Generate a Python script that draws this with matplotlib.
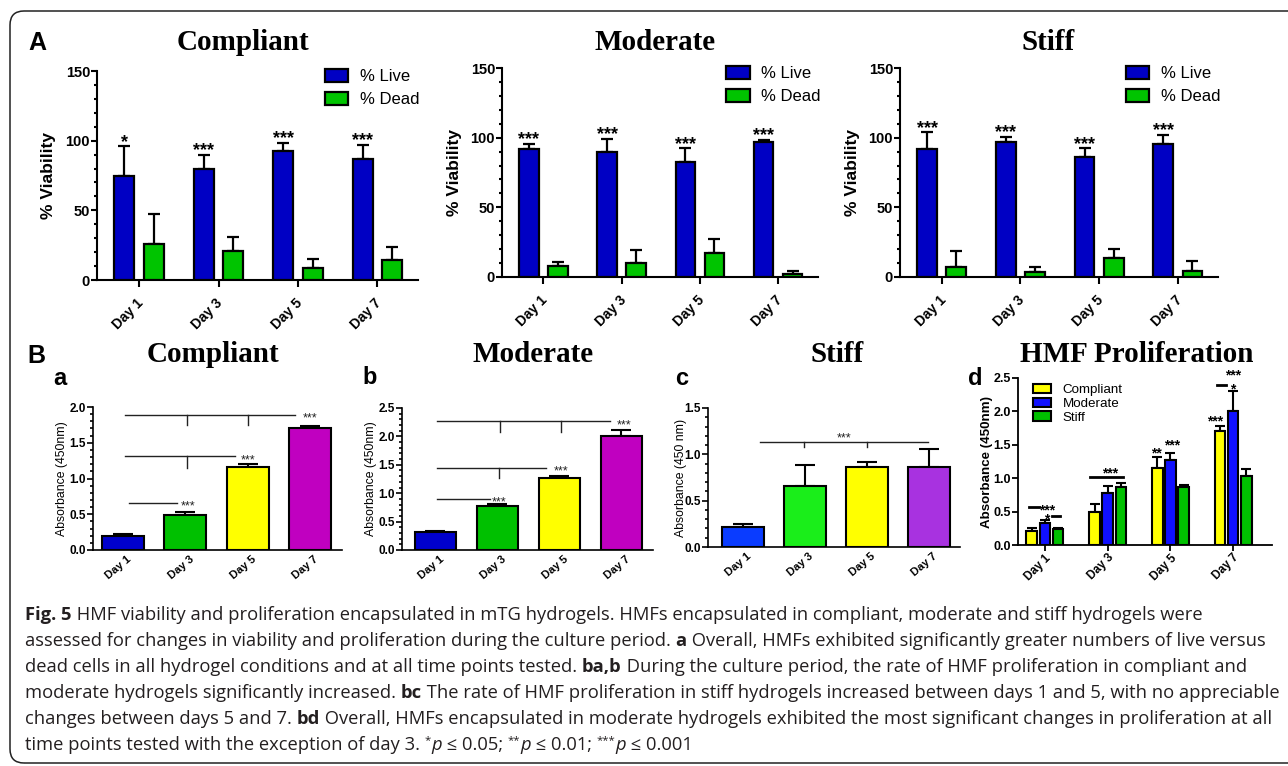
import numpy as np
import matplotlib
matplotlib.use("Agg")
import matplotlib.pyplot as plt
from matplotlib.patches import FancyBboxPatch, Patch
from matplotlib.transforms import IdentityTransform
from matplotlib.ticker import MultipleLocator

W, H = 1288, 766
DPI = 100
SANS = ['Liberation Sans', 'DejaVu Sans']
SERIF = ['Liberation Serif', 'DejaVu Serif']
CAPF = ['Open Sans', 'DejaVu Sans']
plt.rcParams['font.family'] = SANS

# ---------------- data ----------------
days = ['Day 1', 'Day 3', 'Day 5', 'Day 7']
viability_series = ['% Live', '% Dead']
titles_A = ['Compliant', 'Moderate', 'Stiff']

compliant_live = [74.5, 80.0, 92.4, 86.6]
compliant_live_err = [21.5, 10.0, 5.9, 10.3]
compliant_dead = [26.0, 20.8, 8.4, 14.0]
compliant_dead_err = [21.7, 10.0, 6.4, 9.9]
compliant_stars = ['*', '***', '***', '***']

moderate_live = [91.9, 90.0, 82.5, 96.9]
moderate_live_err = [3.6, 9.3, 9.8, 1.7]
moderate_dead = [8.0, 9.8, 17.2, 2.4]
moderate_dead_err = [3.0, 9.6, 10.1, 1.7]
moderate_stars = ['***', '***', '***', '***']

stiff_live = [92.0, 96.7, 86.0, 95.4]
stiff_live_err = [11.8, 3.8, 6.3, 6.6]
stiff_dead = [7.4, 3.3, 13.6, 4.5]
stiff_dead_err = [11.5, 3.9, 6.4, 6.7]
stiff_stars = ['***', '***', '***', '***']

# proliferation (absorbance 450 nm)
abs_compliant = [0.20, 0.494, 1.156, 1.706]
abs_compliant_err = [0.03, 0.042, 0.047, 0.028]
abs_moderate = [0.32, 0.777, 1.273, 2.00]
abs_moderate_err = [0.02, 0.035, 0.035, 0.11]
abs_stiff = [0.215, 0.66, 0.861, 0.861]
abs_stiff_err = [0.035, 0.223, 0.054, 0.194]

# significance brackets (panel a, b, c)
a_bar_y = [0.662, 1.31, 1.893]
a_bar_x0 = [0.10, 0.03, 0.03]
a_bar_x1 = [0.87, 1.80, 2.76]
a_drop_x = [[], [1.03], [1.03, 2.0]]
a_drop_y = [None, 1.147, 1.744]
a_star_x = [1.04, 2.0, 3.0]
a_star_y = [0.662, 1.31, 1.893]

b_bar_y = [0.905, 1.449, 2.27]
b_bar_x0 = [0.02, 0.02, 0.02]
b_bar_x1 = [0.88, 1.79, 2.81]
b_drop_x = [[], [1.02], [1.04, 2.02]]
b_drop_y = [None, 1.27, 2.08]
b_star_x = [1.02, 2.03, 3.04]
b_star_y = [0.905, 1.449, 2.27]

c_bar_y = [1.13]
c_bar_x0 = [0.27]
c_bar_x1 = [2.98]
c_drop_x = [[0.98, 2.0]]
c_drop_y = [1.08]
c_star_x = [1.63]
c_star_y = [1.21]

# panel d
d_series = ['Compliant', 'Moderate', 'Stiff']
d_compliant = [0.21, 0.50, 1.16, 1.70]
d_compliant_err = [0.05, 0.115, 0.15, 0.075]
d_moderate = [0.325, 0.775, 1.275, 2.00]
d_moderate_err = [0.05, 0.11, 0.10, 0.31]
d_stiff = [0.245, 0.875, 0.875, 1.035]
d_stiff_err = [0.015, 0.05, 0.02, 0.10]
d_marks_text = ['***', '*', '***', '**', '***', '***', '*', '***']
d_marks_x = [0.03, 0.03, 1.04, 1.78, 2.02, 2.71, 3.00, 3.00]
d_marks_y = [0.575, 0.44, 1.12, 1.42, 1.55, 1.90, 2.39, 2.60]
d_lines_x0 = [-0.26, 0.11, 0.72, 2.75]
d_lines_x1 = [-0.10, 0.24, 1.25, 2.89]
d_lines_y = [0.57, 0.44, 1.02, 2.39]

caption_lines = [
    [('Fig. 5', 'b'), (' HMF viability and proliferation encapsulated in mTG hydrogels. HMFs encapsulated in compliant, moderate and stiff hydrogels were', 'r')],
    [('assessed for changes in viability and proliferation during the culture period. ', 'r'), ('a', 'b'), (' Overall, HMFs exhibited significantly greater numbers of live versus', 'r')],
    [('dead cells in all hydrogel conditions and at all time points tested. ', 'r'), ('ba,b', 'b'), (' During the culture period, the rate of HMF proliferation in compliant and', 'r')],
    [('moderate hydrogels significantly increased. ', 'r'), ('bc', 'b'), (' The rate of HMF proliferation in stiff hydrogels increased between days 1 and 5, with no appreciable', 'r')],
    [('changes between days 5 and 7. ', 'r'), ('bd', 'b'), (' Overall, HMFs encapsulated in moderate hydrogels exhibited the most significant changes in proliferation at all', 'r')],
    [('time points tested with the exception of day 3. ', 'r'), ('*', 's'), ('p', 'i'), (' \u2264 0.05; ', 'r'), ('**', 's'), ('p', 'i'),
     (' \u2264 0.01; ', 'r'), ('***', 's'), ('p', 'i'), (' \u2264 0.001', 'r')],
]

# ---------------- styling ----------------
BLUE_A = '#0000c4'
GREEN_A = '#00c400'
COLORS_AB = ['#0000cc', '#00c000', '#ffff00', '#c000c0']
COLORS_C = ['#0a3cff', '#1aee1a', '#ffff00', '#a832e0']
COLORS_D = ['#ffff00', '#1010ff', '#00c000']

fig = plt.figure(figsize=(W / DPI, H / DPI), dpi=DPI)


def add_ax(l, t, r, b):
    return fig.add_axes([l / W, 1 - b / H, (r - l) / W, (b - t) / H])


def style(ax, lw):
    ax.spines['top'].set_visible(False)
    ax.spines['right'].set_visible(False)
    for s in ('left', 'bottom'):
        ax.spines[s].set_linewidth(lw)
    ax.tick_params(which='major', width=lw, length=4, direction='out')
    ax.tick_params(which='minor', width=lw, length=2.5, direction='out')
    ax.set_facecolor('none')


def star(ax, x, y, s, fs, dy=0.0, weight='bold', color='k'):
    ax.annotate(s, (x, y), xytext=(0, dy - 0.56 * fs), textcoords='offset points',
                ha='center', va='baseline', fontsize=fs, fontweight=weight,
                color=color, annotation_clip=False)


def day_labels(ax, fs, rot, dx, dy):
    for i, d in enumerate(days):
        ax.annotate(d, (i, 0), xycoords=('data', 'axes fraction'), xytext=(dx, dy),
                    textcoords='offset points', rotation=rot, rotation_mode='anchor',
                    ha='right', va='center', fontsize=fs, fontweight='bold',
                    annotation_clip=False)


def fig_text(xp, yp, s, **kw):
    fig.text(xp / W, 1 - yp / H, s, **kw)


# ---------------- Panel A ----------------
OFF, BW = 0.185, 0.25
A_specs = [
    (compliant_live, compliant_live_err, compliant_dead, compliant_dead_err, compliant_stars, (97, 71, 418, 280), 243),
    (moderate_live, moderate_live_err, moderate_dead, moderate_dead_err, moderate_stars, (502, 68, 818, 277), 655),
    (stiff_live, stiff_live_err, stiff_dead, stiff_dead_err, stiff_stars, (900, 68, 1218, 277), 1048),
]
for title, (live, le, dead, de, st, box, tx) in zip(titles_A, A_specs):
    ax = add_ax(*box)
    style(ax, 1.5)
    x = np.arange(len(days))
    ax.bar(x - OFF, live, BW, color=BLUE_A, edgecolor='k', linewidth=1.6, zorder=3)
    ax.bar(x + OFF, dead, BW, color=GREEN_A, edgecolor='k', linewidth=1.6, zorder=3)
    ax.errorbar(x - OFF, live, yerr=[np.zeros(len(x)), le], fmt='none', ecolor='k',
                elinewidth=1.6, capsize=4, capthick=1.6, zorder=2)
    ax.errorbar(x + OFF, dead, yerr=[np.zeros(len(x)), de], fmt='none', ecolor='k',
                elinewidth=1.6, capsize=4, capthick=1.6, zorder=2)
    ax.set_xlim(-0.53, 3.51)
    ax.set_ylim(0, 150)
    ax.set_yticks([0, 50, 100, 150])
    ax.yaxis.set_minor_locator(MultipleLocator(10))
    ax.set_xticks(x)
    ax.set_xticklabels([])
    ax.tick_params(axis='x', length=5)
    ax.tick_params(axis='y', labelsize=10.5, pad=1)
    for lab in ax.get_yticklabels():
        lab.set_fontweight('bold')
    day_labels(ax, 10, 45, 1.5, -15)
    ax.set_ylabel('% Viability', fontsize=12.5, fontweight='bold')
    ax.yaxis.set_label_coords(-0.127, 0.5)
    handles = [Patch(facecolor=BLUE_A, edgecolor='k', linewidth=1.6),
               Patch(facecolor=GREEN_A, edgecolor='k', linewidth=1.6)]
    ax.legend(handles, viability_series, loc='upper left', bbox_to_anchor=(0.71, 1.01),
              frameon=False, fontsize=12, handlelength=1.4, handleheight=0.85,
              handletextpad=0.7, labelspacing=0.45, borderpad=0, borderaxespad=0)
    for i in range(len(x)):
        star(ax, i - OFF, live[i] + le[i], st[i], 13, dy=7)
    fig_text(tx, 50, title, family=SERIF, fontweight='bold', fontsize=21,
             ha='center', va='baseline')

fig_text(28, 50, 'A', fontsize=18, fontweight='bold', va='baseline')

# ---------------- Panel B a-c ----------------
B_specs = [
    ('Compliant', abs_compliant, abs_compliant_err, COLORS_AB, (93, 407, 342, 550), 2.0,
     'Absorbance (450nm)', (-0.48, 3.51), 213,
     (a_bar_y, a_bar_x0, a_bar_x1, a_drop_x, a_drop_y, a_star_x, a_star_y), -0.10),
    ('Moderate', abs_moderate, abs_moderate_err, COLORS_AB, (402, 408, 653, 550), 2.5,
     'Absorbance (450nm)', (-0.54, 3.51), 533,
     (b_bar_y, b_bar_x0, b_bar_x1, b_drop_x, b_drop_y, b_star_x, b_star_y), -0.10),
    ('Stiff', abs_stiff, abs_stiff_err, COLORS_C, (708, 408, 960, 547), 1.5,
     'Absorbance (450 nm)', (-0.56, 3.5), 837,
     (c_bar_y, c_bar_x0, c_bar_x1, c_drop_x, c_drop_y, c_star_x, c_star_y), -0.085),
]
for title, vals, err, cols, box, ytop, ylab, xl, tx, sig, lx in B_specs:
    ax = add_ax(*box)
    style(ax, 1.2)
    x = np.arange(len(days))
    ax.bar(x, vals, 0.67, color=cols, edgecolor='k', linewidth=1.5, zorder=3)
    ax.errorbar(x, vals, yerr=[np.zeros(len(x)), err], fmt='none', ecolor='k',
                elinewidth=1.5, capsize=7, capthick=1.5, zorder=2)
    ax.set_xlim(*xl)
    ax.set_ylim(0, ytop)
    ax.set_yticks(np.arange(0, ytop + 0.01, 0.5))
    ax.yaxis.set_major_formatter(matplotlib.ticker.FormatStrFormatter('%.1f'))
    ax.yaxis.set_minor_locator(MultipleLocator(0.1))
    ax.set_xticks(x)
    ax.set_xticklabels([])
    ax.tick_params(axis='x', length=0)
    ax.tick_params(axis='y', labelsize=8.5, pad=1)
    for lab in ax.get_yticklabels():
        lab.set_fontweight('bold')
    day_labels(ax, 8, 40, 5, -6)
    ax.set_ylabel(ylab, fontsize=8.8)
    ax.yaxis.set_label_coords(lx, 0.5)
    by, bx0, bx1, dxs, dys, sx, sy = sig
    for k in range(len(by)):
        ax.plot([bx0[k], bx1[k]], [by[k], by[k]], color='#222', lw=1.0, zorder=4, clip_on=False)
        for dxk in dxs[k]:
            ax.plot([dxk, dxk], [by[k], dys[k]], color='#222', lw=1.0, zorder=4, clip_on=False)
        star(ax, sx[k], sy[k], '***', 9, weight='normal', color='#222')
    fig_text(tx, 362, title, family=SERIF, fontweight='bold', fontsize=21,
             ha='center', va='baseline')

fig_text(27, 363, 'B', fontsize=18, fontweight='bold', va='baseline')
fig_text(53, 385, 'a', fontsize=17, fontweight='bold', va='baseline')
fig_text(362, 384, 'b', fontsize=17, fontweight='bold', va='baseline')
fig_text(675, 385, 'c', fontsize=17, fontweight='bold', va='baseline')
fig_text(968, 385, 'd', fontsize=17, fontweight='bold', va='baseline')

# ---------------- Panel d ----------------
ax = add_ax(1018, 378, 1272, 545)
style(ax, 1.3)
x = np.arange(len(days))
d_vals = [d_compliant, d_moderate, d_stiff]
d_errs = [d_compliant_err, d_moderate_err, d_stiff_err]
for j, (v, e, c) in enumerate(zip(d_vals, d_errs, COLORS_D)):
    xo = x + (j - 1) * 0.21
    ax.bar(xo, v, 0.17, color=c, edgecolor='k', linewidth=1.5, zorder=3, label=d_series[j])
    ax.errorbar(xo, v, yerr=[np.zeros(len(x)), e], fmt='none', ecolor='k',
                elinewidth=1.5, capsize=3.7, capthick=1.5, zorder=2)
ax.set_xlim(-0.43, 3.62)
ax.set_ylim(0, 2.5)
ax.set_yticks(np.arange(0, 2.51, 0.5))
ax.yaxis.set_major_formatter(matplotlib.ticker.FormatStrFormatter('%.1f'))
ax.set_xticks(x)
ax.set_xticklabels([])
ax.tick_params(axis='x', length=4)
ax.tick_params(axis='y', labelsize=9, pad=1)
for lab in ax.get_yticklabels():
    lab.set_fontweight('bold')
day_labels(ax, 8.5, 45, 3, -8)
ax.set_ylabel('Absorbance (450nm)', fontsize=9.6, fontweight='bold')
ax.yaxis.set_label_coords(-0.10, 0.5)
ax.legend(loc='upper left', bbox_to_anchor=(0.06, 0.965), fontsize=9.6, frameon=False,
          handlelength=1.3, handleheight=0.7, handletextpad=0.9, labelspacing=0.1,
          borderpad=0, borderaxespad=0)
for s, mx, my in zip(d_marks_text, d_marks_x, d_marks_y):
    star(ax, mx, my, s, 10)
for x0, x1, yy in zip(d_lines_x0, d_lines_x1, d_lines_y):
    ax.plot([x0, x1], [yy, yy], color='k', lw=2, zorder=4, clip_on=False)
fig_text(1137, 362, 'HMF Proliferation', family=SERIF, fontweight='bold', fontsize=21,
         ha='center', va='baseline')

# ---------------- frame ----------------
frame = FancyBboxPatch((10, H - 763), 1330, 752, boxstyle='round,pad=0,rounding_size=14',
                       transform=IdentityTransform(), fill=False, lw=1.1, edgecolor='#222')
fig.add_artist(frame)

# ---------------- caption ----------------
renderer = fig.canvas.get_renderer()


def run_kw(st, fs):
    kw = dict(family=CAPF, fontsize=fs, color='#231f20')
    if st == 'b':
        kw['fontweight'] = 'bold'
    elif st == 'i':
        kw['fontstyle'] = 'italic'
    elif st == 's':
        kw['fontsize'] = fs * 0.62
    return kw


def adv(text, kw):
    t1 = fig.text(0, 0, '|' + text + '|', **kw)
    t2 = fig.text(0, 0, '||', **kw)
    w = t1.get_window_extent(renderer).width - t2.get_window_extent(renderer).width
    t1.remove()
    t2.remove()
    return w


def line_width(runs, fs):
    return sum(adv(t, run_kw(s, fs)) for t, s in runs)


fs0 = 10.0
cap_fs = fs0 * 1243.0 / line_width(caption_lines[1], fs0)

for k, runs in enumerate(caption_lines):
    xp = 25.0
    yb = 620 + k * 26.1
    for t, s in runs:
        kw = run_kw(s, cap_fs)
        raise_px = 0.42 * cap_fs * DPI / 72 if s == 's' else 0
        fig.text(xp / W, 1 - (yb - raise_px) / H, t, va='baseline', ha='left', **kw)
        xp += adv(t, kw)

fig.savefig('out.png', dpi=DPI)
